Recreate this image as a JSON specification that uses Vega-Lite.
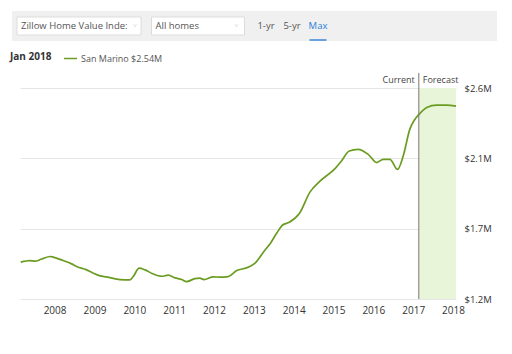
{
  "$schema": "https://vega.github.io/schema/vega-lite/v6.json",
  "background": "white",
  "padding": {"left": 10, "top": 11, "right": 5, "bottom": 5},
  "bounds": "flush",
  "spacing": 77,
  "resolve": {"scale": {"color": "independent"}, "legend": {"color": "independent"}},
  "config": {
    "font": "Open Sans",
    "view": {"stroke": null},
    "text": {"font": "Open Sans"}
  },
  "datasets": {
    "zhvi": [
      {"date": "2007-02-25", "value": 1445000, "series": "San Marino $2.54M"},
      {"date": "2007-05-20", "value": 1455000, "series": "San Marino $2.54M"},
      {"date": "2007-07-05", "value": 1451000, "series": "San Marino $2.54M"},
      {"date": "2007-09-05", "value": 1465000, "series": "San Marino $2.54M"},
      {"date": "2007-11-20", "value": 1482000, "series": "San Marino $2.54M"},
      {"date": "2007-12-20", "value": 1478000, "series": "San Marino $2.54M"},
      {"date": "2008-03-20", "value": 1455000, "series": "San Marino $2.54M"},
      {"date": "2008-06-05", "value": 1433000, "series": "San Marino $2.54M"},
      {"date": "2008-08-05", "value": 1411000, "series": "San Marino $2.54M"},
      {"date": "2008-10-15", "value": 1395000, "series": "San Marino $2.54M"},
      {"date": "2008-12-22", "value": 1371000, "series": "San Marino $2.54M"},
      {"date": "2009-02-22", "value": 1353000, "series": "San Marino $2.54M"},
      {"date": "2009-04-22", "value": 1347000, "series": "San Marino $2.54M"},
      {"date": "2009-08-22", "value": 1329000, "series": "San Marino $2.54M"},
      {"date": "2009-11-22", "value": 1327000, "series": "San Marino $2.54M"},
      {"date": "2009-12-22", "value": 1349000, "series": "San Marino $2.54M"},
      {"date": "2010-02-15", "value": 1405000, "series": "San Marino $2.54M"},
      {"date": "2010-04-10", "value": 1393000, "series": "San Marino $2.54M"},
      {"date": "2010-06-20", "value": 1367000, "series": "San Marino $2.54M"},
      {"date": "2010-09-10", "value": 1351000, "series": "San Marino $2.54M"},
      {"date": "2010-11-08", "value": 1358000, "series": "San Marino $2.54M"},
      {"date": "2011-01-10", "value": 1340000, "series": "San Marino $2.54M"},
      {"date": "2011-03-10", "value": 1329000, "series": "San Marino $2.54M"},
      {"date": "2011-04-25", "value": 1315000, "series": "San Marino $2.54M"},
      {"date": "2011-07-10", "value": 1335000, "series": "San Marino $2.54M"},
      {"date": "2011-08-25", "value": 1338000, "series": "San Marino $2.54M"},
      {"date": "2011-10-01", "value": 1329000, "series": "San Marino $2.54M"},
      {"date": "2011-12-25", "value": 1347000, "series": "San Marino $2.54M"},
      {"date": "2012-02-25", "value": 1345000, "series": "San Marino $2.54M"},
      {"date": "2012-05-10", "value": 1349000, "series": "San Marino $2.54M"},
      {"date": "2012-07-28", "value": 1389000, "series": "San Marino $2.54M"},
      {"date": "2012-10-28", "value": 1407000, "series": "San Marino $2.54M"},
      {"date": "2013-01-12", "value": 1438000, "series": "San Marino $2.54M"},
      {"date": "2013-04-15", "value": 1527000, "series": "San Marino $2.54M"},
      {"date": "2013-05-30", "value": 1567000, "series": "San Marino $2.54M"},
      {"date": "2013-07-30", "value": 1638000, "series": "San Marino $2.54M"},
      {"date": "2013-09-22", "value": 1691000, "series": "San Marino $2.54M"},
      {"date": "2013-11-22", "value": 1709000, "series": "San Marino $2.54M"},
      {"date": "2014-02-22", "value": 1767000, "series": "San Marino $2.54M"},
      {"date": "2014-05-30", "value": 1909000, "series": "San Marino $2.54M"},
      {"date": "2014-08-30", "value": 1982000, "series": "San Marino $2.54M"},
      {"date": "2015-01-15", "value": 2065000, "series": "San Marino $2.54M"},
      {"date": "2015-03-15", "value": 2116000, "series": "San Marino $2.54M"},
      {"date": "2015-05-25", "value": 2182000, "series": "San Marino $2.54M"},
      {"date": "2015-08-15", "value": 2193000, "series": "San Marino $2.54M"},
      {"date": "2015-11-15", "value": 2160000, "series": "San Marino $2.54M"},
      {"date": "2016-02-01", "value": 2105000, "series": "San Marino $2.54M"},
      {"date": "2016-04-01", "value": 2127000, "series": "San Marino $2.54M"},
      {"date": "2016-06-01", "value": 2127000, "series": "San Marino $2.54M"},
      {"date": "2016-08-10", "value": 2060000, "series": "San Marino $2.54M"},
      {"date": "2016-10-01", "value": 2149000, "series": "San Marino $2.54M"},
      {"date": "2016-12-01", "value": 2327000, "series": "San Marino $2.54M"},
      {"date": "2017-01-17", "value": 2393000, "series": "San Marino $2.54M"},
      {"date": "2017-03-03", "value": 2431000, "series": "San Marino $2.54M"},
      {"date": "2017-05-05", "value": 2471000, "series": "San Marino $2.54M"},
      {"date": "2017-08-03", "value": 2487000, "series": "San Marino $2.54M"},
      {"date": "2017-11-03", "value": 2487000, "series": "San Marino $2.54M"},
      {"date": "2018-01-28", "value": 2480000, "series": "San Marino $2.54M"}
    ],
    "forecast": [{"start": "2017-02-21", "end": "2018-01-28"}],
    "marks": [
      {"label": "Current", "date": "2017-02-21"},
      {"label": "Forecast", "date": "2017-02-21"}
    ]
  },
  "vconcat": [
    {
      "spacing": 0,
      "bounds": "flush",
      "hconcat": [
        {
          "width": 134, "height": 30,
          "view": {"fill": "#f0f0f0", "stroke": null},
          "data": {"values": [{"control": "Zillow Home Value Inde:"}]},
          "encoding": {
            "x": {"field": "control", "type": "nominal", "scale": {"paddingOuter": 0.0403, "paddingInner": 0}, "axis": null},
            "y": {"field": "control", "type": "nominal", "scale": {"paddingOuter": 0.3333, "paddingInner": 0}, "axis": null}
          },
          "layer": [
            {"mark": {"type": "rect", "fill": "white", "stroke": "#dcdcdc", "strokeWidth": 1}},
            {"mark": {"type": "text", "align": "left", "dx": 4, "fontSize": 9.5, "color": "#555"},
             "encoding": {"x": {"field": "control", "type": "nominal", "bandPosition": 0, "axis": null}, "text": {"field": "control"}}},
            {"mark": {"type": "text", "align": "right", "dx": -4, "fontSize": 7, "color": "#bbbbbb", "text": "˅"},
             "encoding": {"x": {"field": "control", "type": "nominal", "bandPosition": 1, "axis": null}}}
          ]
        },
        {
          "width": 104, "height": 30,
          "view": {"fill": "#f0f0f0", "stroke": null},
          "data": {"values": [{"control": "All homes"}]},
          "encoding": {
            "x": {"field": "control", "type": "nominal", "scale": {"paddingOuter": 0.0591, "paddingInner": 0}, "axis": null},
            "y": {"field": "control", "type": "nominal", "scale": {"paddingOuter": 0.3333, "paddingInner": 0}, "axis": null}
          },
          "layer": [
            {"mark": {"type": "rect", "fill": "white", "stroke": "#dcdcdc", "strokeWidth": 1}},
            {"mark": {"type": "text", "align": "left", "dx": 4, "fontSize": 9.5, "color": "#555"},
             "encoding": {"x": {"field": "control", "type": "nominal", "bandPosition": 0, "axis": null}, "text": {"field": "control"}}},
            {"mark": {"type": "text", "align": "right", "dx": -6, "fontSize": 7, "color": "#bbbbbb", "text": "˅"},
             "encoding": {"x": {"field": "control", "type": "nominal", "bandPosition": 1, "axis": null}}}
          ]
        },
        {
          "width": 84, "height": 30,
          "view": {"fill": "#f0f0f0", "stroke": null},
          "data": {"values": [{"control": "1-yr"}, {"control": "5-yr"}, {"control": "Max"}]},
          "encoding": {
            "x": {"field": "control", "type": "nominal", "scale": {"type": "point", "domain": ["1-yr", "5-yr", "Max"], "padding": 0.615}, "axis": null}
          },
          "layer": [
            {"transform": [{"filter": "datum.control !== 'Max'"}],
             "mark": {"type": "text", "fontSize": 9.5, "color": "#555"},
             "encoding": {"text": {"field": "control"}}},
            {"transform": [{"filter": "datum.control === 'Max'"}],
             "mark": {"type": "text", "fontSize": 9.5, "color": "#2f7fd8"},
             "encoding": {"text": {"field": "control"}}},
            {"transform": [{"filter": "datum.control === 'Max'"}],
             "mark": {"type": "tick", "orient": "horizontal", "color": "#2f7fd8", "thickness": 2, "size": 17, "yOffset": 14}}
          ]
        },
        {
          "width": 163, "height": 30,
          "view": {"fill": "#f0f0f0", "stroke": null},
          "data": {"values": [{}]},
          "mark": {"type": "text", "text": ""}
        }
      ]
    },
    {
      "spacing": 0,
      "bounds": "flush",
      "resolve": {"scale": {"color": "independent"}, "legend": {"color": "independent"}},
      "hconcat": [
        {
          "width": 8, "height": 211,
          "data": {"values": [{}]},
          "mark": {"type": "text", "text": ""}
        },
        {
          "width": 436, "height": 211,
          "layer": [
            {
              "data": {"name": "forecast"},
              "mark": {"type": "rect", "color": "#e9f5d8"},
              "encoding": {
                "x": {"field": "start", "type": "temporal"},
                "x2": {"field": "end"}
              }
            },
            {
              "data": {"name": "zhvi"},
              "mark": {"type": "line", "interpolate": "monotone", "strokeWidth": 1.7},
              "encoding": {
                "x": {
                  "field": "date", "type": "temporal",
                  "scale": {"domain": [{"year": 2007, "month": 2, "date": 18}, {"year": 2018, "month": 1, "date": 28}]},
                  "axis": {
                    "title": null, "format": "%Y",
                    "values": [{"year": 2008}, {"year": 2009}, {"year": 2010}, {"year": 2011}, {"year": 2012}, {"year": 2013}, {"year": 2014}, {"year": 2015}, {"year": 2016}, {"year": 2017}, {"year": 2018}],
                    "ticks": false, "domain": false, "grid": false,
                    "labelFontSize": 10, "labelColor": "#333", "labelPadding": 6, "labelFont": "Open Sans"
                  }
                },
                "y": {
                  "field": "value", "type": "quantitative",
                  "scale": {"domain": [1200000, 2600000], "zero": false},
                  "axis": {
                    "title": null, "orient": "right",
                    "values": [1200000, 1666667, 2133333, 2600000],
                    "format": "$.2s",
                    "grid": true, "gridColor": "#e6e6e6", "ticks": false, "domain": false,
                    "labelFontSize": 9.5, "labelColor": "#333", "labelPadding": 8, "labelFont": "Open Sans"
                  }
                },
                "color": {
                  "field": "series", "type": "nominal",
                  "scale": {"range": ["#6b9c22"]},
                  "legend": {
                    "orient": "none", "legendX": -10, "legendY": -37,
                    "direction": "horizontal",
                    "title": "Jan 2018", "titleOrient": "left",
                    "titleFontWeight": "bold", "titleFontSize": 10, "titleColor": "#333", "titleFont": "Open Sans",
                    "titlePadding": 11,
                    "symbolType": "stroke", "symbolSize": 169, "symbolStrokeWidth": 1.5,
                    "labelFontSize": 9, "labelColor": "#555", "labelFont": "Open Sans", "labelOffset": 3
                  }
                }
              }
            },
            {
              "data": {"name": "marks"},
              "transform": [{"filter": "datum.label === 'Current'"}],
              "mark": {"type": "rule", "color": "#777777", "strokeWidth": 1},
              "encoding": {
                "x": {"field": "date", "type": "temporal"},
                "y": {"datum": 2700000},
                "y2": {"datum": 1200000}
              }
            },
            {
              "data": {"name": "marks"},
              "transform": [{"filter": "datum.label === 'Current'"}],
              "mark": {"type": "text", "align": "right", "dx": -4, "fontSize": 9, "color": "#444", "baseline": "middle"},
              "encoding": {
                "x": {"field": "date", "type": "temporal"},
                "y": {"datum": 2655000},
                "text": {"field": "label"}
              }
            },
            {
              "data": {"name": "marks"},
              "transform": [{"filter": "datum.label === 'Forecast'"}],
              "mark": {"type": "text", "align": "left", "dx": 4, "fontSize": 9, "color": "#444", "baseline": "middle"},
              "encoding": {
                "x": {"field": "date", "type": "temporal"},
                "y": {"datum": 2655000},
                "text": {"field": "label"}
              }
            }
          ]
        }
      ]
    }
  ]
}
